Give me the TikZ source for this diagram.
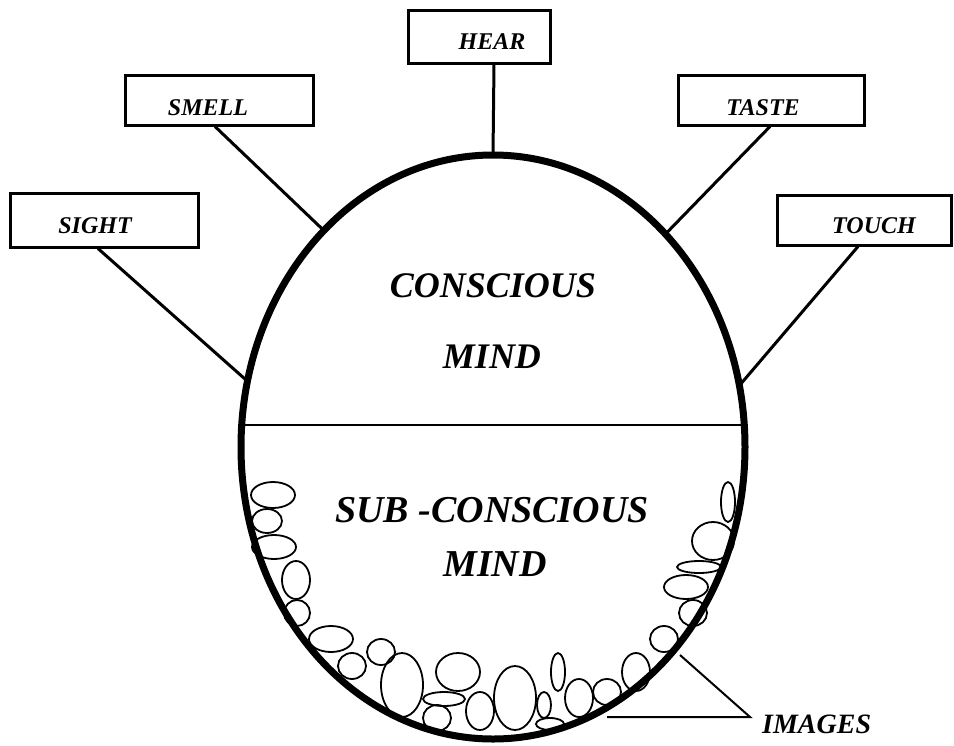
\documentclass[tikz,border=0pt]{standalone}
\usepackage{fontspec}
\setmainfont{Liberation Serif}
\usetikzlibrary{shapes.geometric}
\begin{document}
\begin{tikzpicture}[x=1pt,y=-1pt,
  sense/.style={draw, line width=3pt, inner sep=0pt, font=\fontsize{24}{28}\selectfont\bfseries\itshape, text depth=0pt},
  link/.style={line width=3pt},
  bub/.style={line width=1.8pt},
  big/.style={font=\fontsize{36}{40}\selectfont\bfseries\itshape, inner sep=0pt, text depth=0pt},
  bigger/.style={font=\fontsize{38}{44}\selectfont\bfseries\itshape, inner sep=0pt, text depth=0pt}]
\useasboundingbox (0,0) rectangle (954,745);
% main mind ellipse
\node[draw, ellipse, line width=7pt, minimum width=504pt, minimum height=584pt, inner sep=0pt, outer sep=0pt] (mind) at (493,447) {};
\draw[line width=1.5pt] (mind.175.5) -- (mind.175.5 -| mind.east);
% texts
\node[big] (cons) at (493,286) {CONSCIOUS};
\node[big] (mindA) at (492,357) {MIND};
\node[bigger] (sub) at (492,510) {SUB -CONSCIOUS};
\node[bigger] (mindB) at (495,564) {MIND};
% sense boxes
\node[sense, minimum width=142pt, minimum height=53pt, text height=26pt] (hear) at (479,36.5) {\hspace*{26pt}HEAR};
\node[sense, minimum width=188pt, minimum height=50pt, text height=30pt] (smell) at (219,100) {SMELL\hspace*{22pt}};
\node[sense, minimum width=186pt, minimum height=50pt, text height=30pt] (taste) at (771,100) {TASTE\hspace*{16pt}};
\node[sense, minimum width=188pt, minimum height=54pt, text height=26pt] (sight) at (104,220) {SIGHT\hspace*{18pt}};
\node[sense, minimum width=174pt, minimum height=50pt, text height=26pt] (touch) at (864,220) {\hspace*{20pt}TOUCH};
% connectors
\draw[link] ([xshift=15pt]hear.south) -- (mind.90);
\draw[link] ([xshift=-4pt]smell.south) -- (mind.128);
\draw[link] ([xshift=-6pt]sight.south) -- (mind.165);
\draw[link] ([xshift=-1pt]taste.south) -- (mind.51);
\draw[link] ([xshift=-6pt]touch.south) -- (mind.14);
% images pointer
\node[font=\fontsize{28}{32}\selectfont\bfseries\itshape, inner sep=0pt, text depth=0pt, anchor=west] (images) at (762,724) {IMAGES};
\coordinate (imgv) at (750,717);
\coordinate (imgA) at (607,717);
\coordinate (imgB) at (680,655);
\draw[line width=2pt] (imgA) -- (imgv) -- (imgB);
% images (small ellipses)
\foreach \x/\y/\a/\b in {273/495/22/13, 267/521/15/12, 274/547/22/12, 296/580/14/19, 297/613/13/13,
  728/502/7/20, 713/541/21/19, 699/567/22/6, 686/587/22/12, 693/613/14/13, 664/639/14/13,
  331/639/22/13, 352/666/14/13, 381/652/14/13, 402/685/21/32, 458/672/22/19, 444/699/21/7,
  437/718/14/13, 480/711/14/19, 515/698/21/32, 544/705/7/13, 550/724/14/6, 558/672/7/19,
  579/698/14/19, 607/692/14/13, 636/672/14/19}
  \draw[bub] (\x,\y) ellipse [x radius=\a pt, y radius=\b pt];
\end{tikzpicture}
\end{document}
